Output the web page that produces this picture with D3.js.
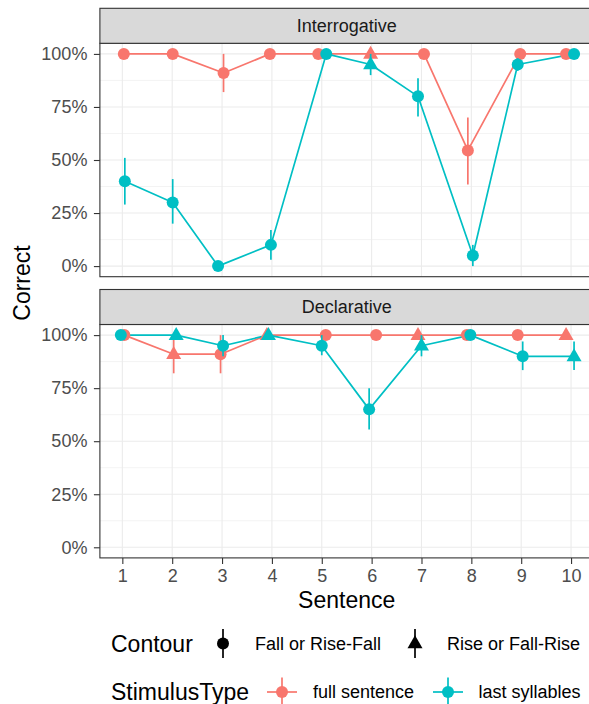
<!DOCTYPE html>
<html><head><meta charset="utf-8">
<script src="https://cdn.jsdelivr.net/npm/d3@7"></script>
<style>body{margin:0;background:#fff}svg{display:block;font-family:"Liberation Sans",Arial,sans-serif}</style>
</head><body><svg id="c" width="589" height="704"></svg>
<script>
// ---- data ----
const sentences = [1,2,3,4,5,6,7,8,9,10];
const panels = ["Interrogative","Declarative"];
const stimulusTypes = ["full sentence","last syllables"];
const contourLabels = ["Fall or Rise-Fall","Rise or Fall-Rise"];
const yTicks = [0,0.25,0.5,0.75,1];
// contour per sentence (F = Fall or Rise-Fall, R = Rise or Fall-Rise)
const contourInterrogative = ["F","F","F","F","F","R","F","F","F","F"];
const contourDeclarative   = ["F","R","F","R","F","F","R","F","F","R"];
// Interrogative
const intFullMean  = [1.00,1.00,0.91,1.00,1.00,1.00,1.00,0.545,1.00,1.00];
const intFullLo    = [1.00,1.00,0.82,1.00,1.00,1.00,1.00,0.385,1.00,1.00];
const intFullHi    = [1.00,1.00,1.00,1.00,1.00,1.00,1.00,0.70,1.00,1.00];
const intFullJit   = [0.03,0.01,0.03,-0.04,-0.07,-0.02,0.05,-0.07,-0.02,-0.10];
const intLastMean  = [0.40,0.30,0.00,0.10,1.00,0.95,0.80,0.05,0.95,1.00];
const intLastLo    = [0.29,0.20,0.00,0.03,1.00,0.90,0.705,0.00,0.92,1.00];
const intLastHi    = [0.51,0.41,0.00,0.17,1.00,1.00,0.885,0.10,0.98,1.00];
const intLastJit   = [0.05,0.01,-0.08,-0.02,0.09,-0.02,-0.07,0.03,-0.07,0.06];
// Declarative
const decFullMean  = [1.00,0.91,0.91,1.00,1.00,1.00,1.00,1.00,1.00,1.00];
const decFullLo    = [1.00,0.82,0.82,1.00,1.00,1.00,1.00,1.00,1.00,1.00];
const decFullHi    = [1.00,1.00,1.00,1.00,1.00,1.00,1.00,1.00,1.00,1.00];
const decFullJit   = [0.04,0.03,-0.03,-0.10,0.08,0.09,-0.07,-0.09,-0.07,-0.10];
const decLastMean  = [1.00,1.00,0.95,1.00,0.95,0.65,0.95,1.00,0.90,0.90];
const decLastLo    = [1.00,1.00,0.90,1.00,0.905,0.555,0.90,1.00,0.835,0.835];
const decLastHi    = [1.00,1.00,1.00,1.00,1.00,0.75,1.00,1.00,0.97,0.97];
const decLastJit   = [-0.03,0.08,0.02,-0.07,0.00,-0.05,0.00,-0.02,0.03,0.06];

const colors = ["#F8766D","#00BFC4"];

const seriesByPanel = [
  {contour: contourInterrogative, series: [
    {mean:intFullMean, lo:intFullLo, hi:intFullHi, jit:intFullJit},
    {mean:intLastMean, lo:intLastLo, hi:intLastHi, jit:intLastJit}]},
  {contour: contourDeclarative, series: [
    {mean:decFullMean, lo:decFullLo, hi:decFullHi, jit:decFullJit},
    {mean:decLastMean, lo:decLastLo, hi:decLastHi, jit:decLastJit}]}
];

// ---- layout ----
const svg = d3.select("#c");
const left = 99.9, right = 593.5;
const stripH = 35, panelH = 233.4;
const stripTops = [8.3, 289.5];
const x = d3.scaleLinear().domain([0.55,10.45]).range([left,right]);
const axisTextCol = "#4D4D4D";

function triPath(cx, cy, w, h){
  return `M${cx},${cy - h*2/3}L${cx + w/2},${cy + h/3}L${cx - w/2},${cy + h/3}Z`;
}
function marker(g, shape, cx, cy, col){
  if(shape === "R"){
    g.append("path").attr("d", triPath(cx, cy+0.5, 15, 13)).attr("fill", col);
  } else {
    g.append("circle").attr("cx", cx).attr("cy", cy).attr("r", 6).attr("fill", col);
  }
}

panels.forEach((pname, pi) => {
  const top = stripTops[pi] + stripH;
  const bottom = top + panelH;
  const y = d3.scaleLinear().domain([-0.05,1.05]).range([bottom, top]);
  const g = svg.append("g");
  // panel background
  g.append("rect").attr("x",left).attr("y",top).attr("width",right-left).attr("height",panelH).attr("fill","#fff");
  // minor grid
  const minor = d3.range(0,1,0.25).map(v => v + 0.125);
  g.selectAll(".mn").data(minor).join("line")
    .attr("x1",left).attr("x2",right).attr("y1",d=>y(d)).attr("y2",d=>y(d))
    .attr("stroke","#EBEBEB").attr("stroke-width",0.6);
  g.selectAll(".mj").data(yTicks).join("line")
    .attr("x1",left).attr("x2",right).attr("y1",d=>y(d)).attr("y2",d=>y(d))
    .attr("stroke","#EBEBEB").attr("stroke-width",1.1);
  g.selectAll(".vx").data(sentences).join("line")
    .attr("x1",d=>x(d)).attr("x2",d=>x(d)).attr("y1",top).attr("y2",bottom)
    .attr("stroke","#EBEBEB").attr("stroke-width",1.1);

  const P = seriesByPanel[pi];
  // lines
  P.series.forEach((s, si) => {
    const line = d3.line().x((d,i)=>x(sentences[i] + s.jit[i])).y(d=>y(d));
    g.append("path").datum(s.mean).attr("d", line).attr("fill","none")
      .attr("stroke", colors[si]).attr("stroke-width", 1.7).attr("stroke-linejoin","round");
  });
  // pointranges
  P.series.forEach((s, si) => {
    sentences.forEach((sv, i) => {
      const cx = x(sv + s.jit[i]);
      if (s.hi[i] > s.lo[i]) {
        g.append("line").attr("x1",cx).attr("x2",cx).attr("y1",y(s.lo[i])).attr("y2",y(s.hi[i]))
          .attr("stroke",colors[si]).attr("stroke-width",1.7);
      }
      marker(g, P.contour[i], cx, y(s.mean[i]), colors[si]);
    });
  });
  // panel border
  g.append("rect").attr("x",left).attr("y",top).attr("width",right-left).attr("height",panelH)
    .attr("fill","none").attr("stroke","#333333").attr("stroke-width",1.1);
  // strip
  g.append("rect").attr("x",left).attr("y",stripTops[pi]).attr("width",right-left).attr("height",stripH)
    .attr("fill","#D9D9D9").attr("stroke","#333333").attr("stroke-width",1.1);
  g.append("text").attr("x",(left+right)/2).attr("y",stripTops[pi]+stripH/2).attr("dy","0.35em")
    .attr("text-anchor","middle").attr("font-size",18).attr("fill","#1A1A1A").text(pname);
  // y axis
  const ya = svg.append("g").attr("transform",`translate(${left},0)`)
    .call(d3.axisLeft(y).tickValues(yTicks).tickFormat(d3.format(".0%")).tickSize(6).tickPadding(6.5));
  ya.select(".domain").remove();
  ya.selectAll(".tick line").attr("stroke","#333333").attr("stroke-width",1.1);
  ya.selectAll(".tick text").attr("font-size",18).attr("fill",axisTextCol).attr("font-family",null);
  if (pi === 1) {
    const xa = svg.append("g").attr("transform",`translate(0,${bottom})`)
      .call(d3.axisBottom(x).tickValues(sentences).tickFormat(d3.format("d")).tickSize(6).tickPadding(5.5));
    xa.select(".domain").remove();
    xa.selectAll(".tick line").attr("stroke","#333333").attr("stroke-width",1.1);
    xa.selectAll(".tick text").attr("font-size",18).attr("fill",axisTextCol).attr("font-family",null);
  }
});

// axis titles
svg.append("text").attr("x",(left+right)/2).attr("y",600).attr("dy","0.35em")
  .attr("text-anchor","middle").attr("font-size",23).attr("fill","#000").text("Sentence");
svg.append("text").attr("transform","translate(22,283) rotate(-90)").attr("dy","0.35em")
  .attr("text-anchor","middle").attr("font-size",23).attr("fill","#000").text("Correct");

// legends
const lg = svg.append("g");
const row1 = 643.5, row2 = 692;
lg.append("text").attr("x",111).attr("y",row1).attr("dy","0.35em").attr("font-size",23).text("Contour");
const contourKeyX = [223, 415], contourTextX = [255, 447];
["F","R"].forEach((c, i) => {
  lg.append("line").attr("x1",contourKeyX[i]).attr("x2",contourKeyX[i]).attr("y1",row1-14.5).attr("y2",row1+14.5)
    .attr("stroke","#000").attr("stroke-width",1.7);
  marker(lg, c, contourKeyX[i], row1, "#000");
  lg.append("text").attr("x",contourTextX[i]).attr("y",row1).attr("dy","0.35em").attr("font-size",18).text(contourLabels[i]);
});
lg.append("text").attr("x",111).attr("y",row2).attr("dy","0.35em").attr("font-size",23).text("StimulusType");
const stimKeyX = [282, 448], stimTextX = [313, 478.5];
stimulusTypes.forEach((s, i) => {
  lg.append("line").attr("x1",stimKeyX[i]-15).attr("x2",stimKeyX[i]+15).attr("y1",row2).attr("y2",row2)
    .attr("stroke",colors[i]).attr("stroke-width",1.7);
  lg.append("line").attr("x1",stimKeyX[i]).attr("x2",stimKeyX[i]).attr("y1",row2-14.5).attr("y2",row2+14.5)
    .attr("stroke",colors[i]).attr("stroke-width",1.7);
  marker(lg, "F", stimKeyX[i], row2, colors[i]);
  lg.append("text").attr("x",stimTextX[i]).attr("y",row2).attr("dy","0.35em").attr("font-size",18).text(s);
});
</script></body></html>
